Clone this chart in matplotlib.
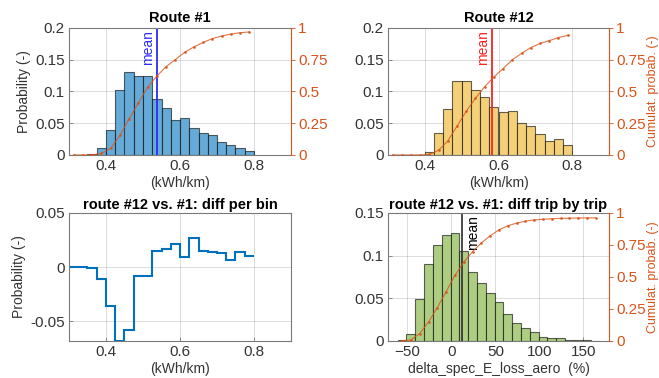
import matplotlib
matplotlib.use('Agg')
import matplotlib.pyplot as plt
import numpy as np

plt.rcParams['font.family'] = ['Liberation Sans', 'DejaVu Sans']

# bins (kWh/km), width 0.025 from 0.3 to 0.8
edges = np.round(np.arange(0.3, 0.8001, 0.025), 4)

prob_r1 = [0.0, 0.0, 0.001, 0.011, 0.040, 0.102, 0.131, 0.125, 0.124, 0.088,
           0.074, 0.055, 0.058, 0.042, 0.035, 0.031, 0.020, 0.015, 0.011, 0.006]
prob_r12 = [0.0, 0.0, 0.0, 0.0, 0.004, 0.034, 0.073, 0.117, 0.116, 0.103,
            0.091, 0.076, 0.067, 0.069, 0.050, 0.045, 0.033, 0.022, 0.025, 0.016]
mean_r1 = 0.537
mean_r12 = 0.583

# trip by trip difference (%), bins of 10
edges_d = np.arange(-61, 170, 10)
prob_d = [0.001, 0.008, 0.049, 0.090, 0.113, 0.124, 0.127, 0.105, 0.081, 0.068,
          0.056, 0.046, 0.032, 0.021, 0.015, 0.010, 0.005, 0.004, 0.003, 0.0016,
          0.0012, 0.0008, 0.0004]
mean_d = 12.4

C_AX = '#333333'
C_OR = '#D95319'
C_BLUE = '#0072BD'

W, H = 659, 378
fig = plt.figure(figsize=(W / 100, H / 100), dpi=100)


def box(x0, y0, x1, y1):
    return [x0 / W, 1 - y1 / H, (x1 - x0) / W, (y1 - y0) / H]


def style(ax, right=False):
    ax.set_axisbelow(True)
    ax.grid(True, color='#262626', alpha=0.18, lw=0.6)
    for s in ax.spines.values():
        s.set_color('#7a7a7a')
        s.set_linewidth(0.8)
    ax.tick_params(direction='in', length=3, width=0.6, color='#7a7a7a',
                   labelsize=11, labelcolor=C_AX, pad=3)
    if right:
        ax.spines['right'].set_visible(False)


def cdf_axis(ax, x, y, label=True):
    ax2 = ax.twinx()
    ax2.plot(x, y, color=C_OR, lw=0.8, alpha=0.8, marker='.', ms=2)
    ax2.set_ylim(0, 1)
    ax2.set_yticks([0, 0.25, 0.5, 0.75, 1])
    ax2.set_yticklabels(['0', '0.25', '0.5', '0.75', '1'])
    for k, s in ax2.spines.items():
        s.set_visible(k == 'right')
    ax2.spines['right'].set_color(C_OR)
    ax2.spines['right'].set_linewidth(0.8)
    ax2.tick_params(direction='out', length=3, width=0.6, color=C_OR,
                    labelsize=11, labelcolor=C_OR, pad=2)
    if label:
        ax2.set_ylabel('Cumulat. probab. (-)', color=C_OR, fontsize=9,
                       rotation=90, labelpad=1)
    return ax2


def hist_panel(rect, probs, mean, face, mcolor, title, ylabel, cdflabel):
    ax = fig.add_axes(rect)
    ax.bar(edges[:-1], probs, width=0.025, align='edge', color=face,
           edgecolor=(0, 0, 0, 0.6), lw=0.8)
    ax.axvline(mean, color=mcolor, lw=1.3)
    ax.text(mean - 0.005, 0.197, 'mean', rotation=90, ha='right', va='top',
            color=mcolor, fontsize=10)
    ax.set_xlim(0.3, 0.9)
    ax.set_ylim(0, 0.2)
    ax.set_xticks([0.4, 0.6, 0.8])
    ax.set_yticks([0, 0.05, 0.1, 0.15, 0.2])
    ax.set_yticklabels(['0', '0.05', '0.1', '0.15', '0.2'])
    ax.set_title(title, fontsize=10.5, fontweight='bold', pad=4, color='black')
    ax.set_xlabel('(kWh/km)', fontsize=10, color=C_AX, labelpad=2)
    if ylabel:
        ax.set_ylabel('Probability (-)', fontsize=10, color=C_AX, labelpad=3)
    style(ax, right=True)
    centers = (edges[:-1] + edges[1:]) / 2
    cdf_axis(ax, centers, np.cumsum(probs), label=cdflabel)
    return ax


hist_panel(box(69, 28, 291, 155), prob_r1, mean_r1, '#66AAD7', '#2b2bff',
           'Route #1', True, False)
hist_panel(box(388, 28, 609, 155), prob_r12, mean_r12, '#F4D079', '#ff2020',
           'Route #12', False, True)

# diff per bin
ax3 = fig.add_axes(box(69, 213, 291, 341))
diff = np.array(prob_r12) - np.array(prob_r1)
ax3.stairs(diff, edges, baseline=None, color=C_BLUE, lw=1.5)
ax3.set_xlim(0.3, 0.9)
ax3.set_ylim(-0.068, 0.05)
ax3.set_xticks([0.4, 0.6, 0.8])
ax3.set_yticks([-0.05, 0, 0.05])
ax3.set_yticklabels(['-0.05', '0', '0.05'])
ax3.set_title('route #12 vs. #1: diff per bin', fontsize=10.5, fontweight='bold',
              pad=3)
ax3.set_xlabel('(kWh/km)', fontsize=10, color=C_AX, labelpad=2)
ax3.set_ylabel('Probability (-)', fontsize=10, color=C_AX, labelpad=3)
style(ax3)

# diff trip by trip
ax4 = fig.add_axes(box(388, 213, 609, 341))
ax4.bar(edges_d[:-1], prob_d, width=10, align='edge', color='#ADCD83',
        edgecolor=(0, 0, 0, 0.6), lw=0.8)
ax4.axvline(mean_d, color='#3a3a3a', lw=1.3)
ax4.text(mean_d + 4, 0.148, 'mean', rotation=90, ha='left', va='top',
         color='black', fontsize=10)
ax4.set_xlim(-72, 179)
ax4.set_ylim(0, 0.15)
ax4.set_xticks([-50, 0, 50, 100, 150])
ax4.set_yticks([0, 0.05, 0.1, 0.15])
ax4.set_yticklabels(['0', '0.05', '0.1', '0.15'])
ax4.set_title('route #12 vs. #1: diff trip by trip', fontsize=10.5,
              fontweight='bold', pad=3)
ax4.set_xlabel('delta_spec_E_loss_aero  (%)', fontsize=10, color=C_AX,
               labelpad=2)
style(ax4, right=True)
centers_d = (edges_d[:-1] + edges_d[1:]) / 2
cdf_axis(ax4, centers_d, np.cumsum(prob_d))

fig.savefig('out.png', dpi=100)
